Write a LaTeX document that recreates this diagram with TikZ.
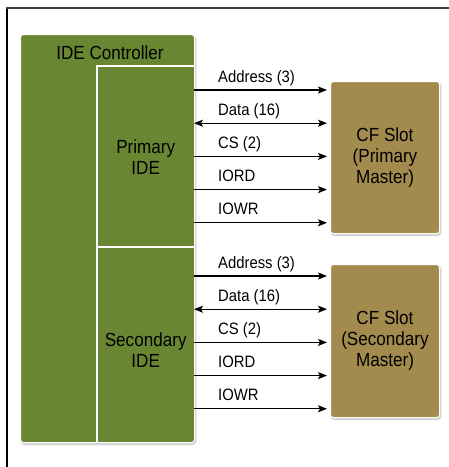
\documentclass[tikz,border=0pt]{standalone}
\usepackage{fontspec}
\setmainfont{Liberation Sans}[FakeStretch=0.9]
\usetikzlibrary{arrows.meta,shadows.blur}
\definecolor{idegreen}{RGB}{105,135,50}
\definecolor{cfgold}{RGB}{163,139,78}

\begin{document}
\begin{tikzpicture}[x=1pt,y=-1pt,
    box/.style={rectangle,inner sep=0pt,anchor=north west},
    soft/.style={blur shadow={shadow xshift=1pt,shadow yshift=-1.5pt,shadow opacity=30,shadow blur steps=6}},
    ctrl/.style={box,fill=idegreen,draw=white,line width=1pt,rounded corners=3pt,soft},
    slot/.style={box,fill=cfgold,draw=white,line width=1pt,rounded corners=3pt,soft},
    big/.style={font=\fontsize{19}{21}\selectfont,align=center},
    siglab/.style={font=\fontsize{16.5}{19}\selectfont,anchor=base west,inner sep=0pt},
    sig/.style={line width=1.2pt,shorten >=3pt,>={Stealth[length=9pt,width=7pt,inset=2pt]}}]
  \useasboundingbox (0,0) rectangle (449,467);
  % frame
  \draw[line width=1.3pt] (7,467) -- (7,8);
  \draw[line width=1.3pt,black!75] (6.35,8) -- (449,8);

  % controller with its two ports
  \node[ctrl,minimum width=174,minimum height=408] (ctrl) at (20,34) {};
  \node[big,anchor=base] (title) at (110,59) {IDE Controller};
  \node[box,big,minimum width=97,minimum height=181] (pri) at (97,66) {Primary\\IDE};
  \node[box,minimum width=97,minimum height=195] (sec) at (97,247) {};
  \node[big,yshift=-5pt] (sectxt) at (sec.center) {Secondary\\IDE};
  \draw[white,line width=1.2pt] (pri.north east) -- (pri.north west) -- (sec.south west);
  \draw[white,line width=1.2pt] (sec.north west) -- (sec.north east);

  % slots
  \node[slot,big,minimum width=109,minimum height=152] (slotA) at (330,81) {CF Slot\\(Primary\\Master)};
  \node[slot,big,minimum width=109,minimum height=153] (slotB) at (330,264) {CF Slot\\(Secondary\\Master)};

  % signals
  \foreach \lab/\tip [count=\i] in {Address (3)/->,Data (16)/<->,CS (2)/->,IORD/->,IOWR/->} {
    \pgfmathsetmacro\ya{90+33.2*(\i-1)}
    \pgfmathsetmacro\yb{276+33.2*(\i-1)}
    \coordinate (pa\i) at (194,\ya);
    \coordinate (pb\i) at (194,\yb);
    \draw[sig,\tip] (pa\i) -- (pa\i -| slotA.west);
    \draw[sig,\tip] (pb\i) -- (pb\i -| slotB.west);
    \node[siglab] (la\i) at (218,\ya-8) {\lab};
    \node[siglab] (lb\i) at (218,\yb-8) {\lab};
  }
\end{tikzpicture}
\end{document}
